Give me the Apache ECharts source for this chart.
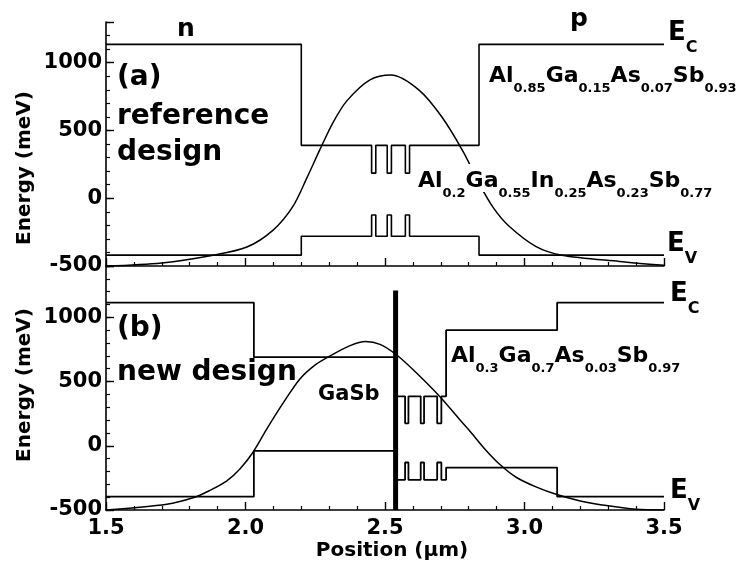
<!DOCTYPE html>
<html>
<head>
<meta charset="utf-8">
<script src="https://cdn.jsdelivr.net/npm/echarts@6/dist/echarts.min.js"></script>
<style>
  html, body { margin: 0; padding: 0; background: #fff; }
  #chart { width: 738px; height: 569px; }
</style>
</head>
<body>
<div id="chart"></div>
<script>
// ---- (a) reference design: band edges (each energy holds until the next breakpoint) ----
const refEdgePos = [1.5, 2.2, 2.452, 2.467, 2.508, 2.523, 2.573, 2.588, 2.837, 3.5];
const refEc      = [1135, 390, 185, 390, 185, 390, 185, 390, 1135, 1135];
const refEv      = [-420, -280, -124, -280, -124, -280, -124, -280, -420, -420];
// optical mode profile, (a)
const refModePos = [1.5, 1.7, 1.884, 2.005, 2.099, 2.17, 2.22, 2.267, 2.314, 2.364, 2.446, 2.522, 2.622, 2.704, 2.783, 2.837, 2.89, 2.944, 3.04, 3.134, 3.34, 3.5];
const refModeVal = [-500, -477, -420, -360, -235, -60, 150, 360, 560, 720, 873, 909, 798, 599, 333, 110, -75, -205, -355, -420, -466, -495];

// ---- (b) new design ----
const newEdgePos = [1.5, 2.03, 2.538, 2.572, 2.584, 2.628, 2.640, 2.687, 2.702, 2.719, 3.117, 3.5];
const newEc      = [1115, 690, 385, 175, 385, 175, 385, 175, 385, 900, 1115, 1115];
const newEv      = [-396, -40, -265, -130, -265, -130, -265, -130, -265, -170, -396, -396];
const newModePos = [1.5, 1.718, 1.812, 1.87, 1.932, 1.98, 2.027, 2.076, 2.134, 2.195, 2.25, 2.303, 2.375, 2.43, 2.482, 2.542, 2.614, 2.697, 2.769, 2.801, 2.86, 2.914, 2.97, 3.041, 3.116, 3.2, 3.278, 3.4, 3.5];
const newModeVal = [-500, -455, -405, -350, -275, -180, -50, 130, 330, 520, 630, 700, 780, 812, 790, 707, 565, 382, 201, 123, -30, -150, -245, -320, -380, -430, -461, -495, -500];
// thin GaSb layer
const gasbPos = [2.538, 2.538];
const gasbVal = [-500, 1210];

// ---- axis ticks ----
const posTicks    = [1.5, 2.0, 2.5, 3.0, 3.5];
const energyTicks = [-500, 0, 500, 1000];

// ---- layer labels: [element, subscript] ----
const cladLabel  = [['Al', '0.85'], ['Ga', '0.15'], ['As', '0.07'], ['Sb', '0.93']];
const waveLabel  = [['Al', '0.2'], ['Ga', '0.55'], ['In', '0.25'], ['As', '0.23'], ['Sb', '0.77']];
const newLabel   = [['Al', '0.3'], ['Ga', '0.7'], ['As', '0.03'], ['Sb', '0.97']];

const FONT = '"DejaVu Sans", sans-serif';
const pairs = (xs, ys) => xs.map((x, i) => [x, ys[i]]);
const chem = parts => parts.map(p => '{m|' + p[0] + '}{s|' + p[1] + '}').join('');

const chemRich = {
  m: { fontSize: 22, fontWeight: 'bold', fontFamily: FONT, color: '#000', lineHeight: 22, verticalAlign: 'top' },
  s: { fontSize: 13, fontWeight: 'bold', fontFamily: FONT, color: '#000', lineHeight: 13, verticalAlign: 'top', padding: [17, 0, 0, 0] }
};
const bandRich = {
  m: { fontSize: 26, fontWeight: 'bold', fontFamily: FONT, color: '#000', lineHeight: 26, verticalAlign: 'top' },
  s: { fontSize: 16, fontWeight: 'bold', fontFamily: FONT, color: '#000', lineHeight: 16, verticalAlign: 'top', padding: [19, 0, 0, 0] }
};

const GRID_W = 558;
const black = '#000';

function xAxisOf(grid, labels) {
  return {
    type: 'value', gridIndex: grid, min: 1.5, max: 3.5, interval: 0.5,
    axisLine: { onZero: false, lineStyle: { color: black, width: 1.6 } },
    axisTick: { inside: true, length: 8, lineStyle: { color: black, width: 1.4 } },
    minorTick: { show: true, splitNumber: 5, length: 4, lineStyle: { color: black, width: 1.2 } },
    splitLine: { show: false }, minorSplitLine: { show: false },
    axisLabel: {
      show: labels, margin: 8, color: black, fontSize: 21, fontWeight: 'bold', fontFamily: FONT,
      formatter: v => posTicks.some(t => Math.abs(t - v) < 1e-6) ? v.toFixed(1) : ''
    }
  };
}
function yMajor(grid, max) {
  return {
    type: 'value', gridIndex: grid, position: 'left', min: -500, max: max, interval: 500,
    axisLine: { onZero: false, lineStyle: { color: black, width: 1.6 } },
    axisTick: { inside: true, length: 8, lineStyle: { color: black, width: 1.4 } },
    splitLine: { show: false },
    axisLabel: {
      margin: 4, color: black, fontSize: 21, fontWeight: 'bold', fontFamily: FONT,
      formatter: v => energyTicks.indexOf(v) >= 0 ? String(v) : ''
    }
  };
}
function yMinor(grid, max) {
  // hundred-meV ticks, laid over the left edge
  return {
    type: 'value', gridIndex: grid, position: 'right', offset: -GRID_W, min: -500, max: max, interval: 100,
    axisLine: { show: false, onZero: false },
    axisTick: { inside: false, length: 4, lineStyle: { color: black, width: 1.2 } },
    axisLabel: { show: false }, splitLine: { show: false }
  };
}
function line(data, xi, yi, width, extra) {
  return Object.assign({
    type: 'line', xAxisIndex: xi, yAxisIndex: yi, data: data, symbol: 'none', silent: true,
    lineStyle: { color: black, width: width }, z: 3
  }, extra || {});
}
function txt(x, y, text, size, align) {
  return { type: 'text', z: 10, style: { x: x, y: y, text: text, fill: black, font: 'bold ' + size + 'px ' + FONT, textAlign: align || 'left', textVerticalAlign: 'middle' } };
}
function richTxt(x, y, text, rich, extra) {
  return { type: 'text', z: 10, style: Object.assign({ x: x, y: y, text: text, rich: rich, textAlign: 'left', textVerticalAlign: 'top' }, extra || {}) };
}
function vText(x, y, text) {
  return { type: 'text', z: 10, x: x, y: y, rotation: Math.PI / 2,
    style: { x: 0, y: 0, text: text, fill: black, font: 'bold 20px ' + FONT, textAlign: 'center', textVerticalAlign: 'middle' } };
}

const chart = echarts.init(document.getElementById('chart'), null, { renderer: 'canvas' });
chart.setOption({
  animation: false,
  backgroundColor: '#fff',
  grid: [
    { left: 106, top: 22, width: GRID_W, height: 244 },
    { left: 106, top: 266, width: GRID_W, height: 244 }
  ],
  xAxis: [xAxisOf(0, false), xAxisOf(1, true)],
  yAxis: [yMajor(0, 1300), yMinor(0, 1300), yMajor(1, 1400), yMinor(1, 1400)],
  series: [
    line(pairs(refEdgePos, refEc), 0, 0, 1.6, { step: 'end' }),
    line(pairs(refEdgePos, refEv), 0, 0, 1.6, { step: 'end' }),
    line(pairs(refModePos, refModeVal), 0, 0, 1.5, { smooth: 0.3, z: 2 }),
    line(pairs(newEdgePos, newEc), 1, 2, 1.8, { step: 'end' }),
    line(pairs(newEdgePos, newEv), 1, 2, 1.8, { step: 'end' }),
    line(pairs(newModePos, newModeVal), 1, 2, 1.5, { smooth: 0.3, z: 2 }),
    line(pairs(gasbPos, gasbVal), 1, 2, 5, { z: 4 })
  ],
  graphic: [
    txt(186, 29.5, 'n', 25, 'center'),
    txt(579, 19.5, 'p', 25, 'center'),
    txt(117, 77.5, '(a)', 28),
    txt(117, 116.6, 'reference', 28),
    txt(117, 152.6, 'design', 28),
    txt(117, 329, '(b)', 28),
    txt(117, 372.6, 'new design', 28),
    txt(318, 394.7, 'GaSb', 21),
    richTxt(489, 65, chem(cladLabel), chemRich),
    richTxt(416, 164, chem(waveLabel), chemRich, { backgroundColor: '#fff', padding: [6, 2, 0, 2] }),
    richTxt(451, 345, chem(newLabel), chemRich),
    richTxt(668, 20.7, '{m|E}{s|C}', bandRich),
    richTxt(667, 231.7, '{m|E}{s|V}', bandRich),
    richTxt(670, 281.7, '{m|E}{s|C}', bandRich),
    richTxt(670, 478.7, '{m|E}{s|V}', bandRich),
    vText(25, 168, 'Energy (meV)'),
    vText(25, 385, 'Energy (meV)'),
    txt(392, 551, 'Position (\u03bcm)', 20, 'center')
  ]
});
</script>
</body>
</html>
